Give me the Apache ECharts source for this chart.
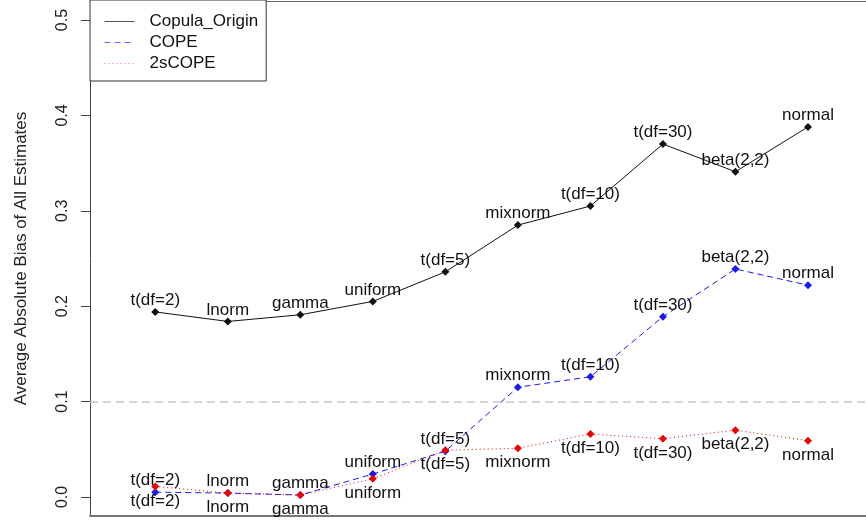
<!DOCTYPE html>
<html>
<head>
<meta charset="utf-8">
<script src="https://cdn.jsdelivr.net/npm/echarts@6/dist/echarts.min.js"></script>
<style>html,body{margin:0;padding:0;background:#fff}#main{width:866px;height:521px}</style>
</head>
<body>
<div id="main"></div>
<script>
// data
var distNames = ['t(df=2)','lnorm','gamma','uniform','t(df=5)','mixnorm','t(df=10)','t(df=30)','beta(2,2)','normal'];
var copulaOrigin = [0.194,0.184,0.191,0.205,0.236,0.285,0.305,0.370,0.341,0.388];
var cope = [0.005,0.004,0.002,0.024,0.048,0.115,0.126,0.189,0.239,0.222];
var twoSCope = [0.011,0.004,0.002,0.019,0.049,0.051,0.066,0.061,0.070,0.059];
var yTicks = [0,0.1,0.2,0.3,0.4,0.5];
var refLine = 0.1;

var font = 'Liberation Sans, Arial, sans-serif';

function mkData(vals){
	var out = [];
	for (var i = 0; i < vals.length; i++) {
		out.push({name: distNames[i], value: [i + 1, vals[i]]});
	}
	return out;
}

function mkSeries(name, vals, color, lineType, labelPos){
	return {
		name: name,
		type: 'line',
		data: mkData(vals),
		symbol: 'diamond',
		symbolSize: 8,
		itemStyle: {color: color},
		lineStyle: {color: color, width: 1, type: lineType},
		label: {
			show: true,
			position: labelPos,
			distance: labelPos == 'top' ? -1 : 2,
			formatter: function(p){ return p.name; },
			color: '#111',
			fontSize: 17,
			fontFamily: font
		}
	};
}

var dom = document.getElementById("main");
var myChart = echarts.init(dom);
var option = {
	animation: false,
	backgroundColor: '#fff',
	grid: {left: 90, right: 0, top: 1, bottom: 5},
	legend: {
		left: 90,
		top: 0,
		orient: 'vertical',
		backgroundColor: '#fff',
		borderColor: '#333',
		borderWidth: 1,
		borderRadius: 0,
		padding: [13, 8, 9, 14],
		itemWidth: 30,
		itemHeight: 14,
		itemGap: 4,
		itemStyle: {opacity: 0},
		textStyle: {fontSize: 17, fontFamily: font, color: '#111', padding: [0, 0, 0, 10]},
		data: [
			{name: 'Copula_Origin', lineStyle: {color: '#555', width: 1, type: 'solid'}},
			{name: 'COPE', lineStyle: {color: '#6666ff', width: 1, type: [6, 4]}},
			{name: '2sCOPE', lineStyle: {color: '#ff7777', width: 1, type: [1, 3]}}
		]
	},
	xAxis: [{
		type: 'value',
		min: 0.1,
		max: 10.8,
		axisLine: {show: true, onZero: false, lineStyle: {color: '#777', width: 2}},
		axisTick: {show: false},
		axisLabel: {show: false},
		splitLine: {show: false}
	}, {
		type: 'value',
		position: 'top',
		min: 0.1,
		max: 10.8,
		axisLine: {show: true, onZero: false, lineStyle: {color: '#666', width: 1}},
		axisTick: {show: false},
		axisLabel: {show: false},
		splitLine: {show: false}
	}],
	yAxis: {
		type: 'value',
		min: -0.02,
		max: 0.52,
		name: 'Average Absolute Bias of All Estimates',
		nameLocation: 'middle',
		nameRotate: 90,
		nameGap: 60,
		nameTextStyle: {fontSize: 17, fontFamily: font, color: '#222'},
		axisLine: {show: true, onZero: false, lineStyle: {color: '#444', width: 1}},
		axisTick: {show: true, length: 9, customValues: yTicks, lineStyle: {color: '#444'}},
		axisLabel: {
			rotate: 90,
			margin: 19,
			customValues: yTicks,
			formatter: function(v){ return v.toFixed(1); },
			fontSize: 16,
			fontFamily: font,
			color: '#222'
		},
		splitLine: {show: false}
	},
	series: [
		mkSeries('Copula_Origin', copulaOrigin, '#111', 'solid', 'top'),
		mkSeries('COPE', cope, '#1a1aee', [6, 4], 'top'),
		mkSeries('2sCOPE', twoSCope, '#ee0000', [1, 3], 'bottom')
	]
};
option.series[0].markLine = {
	silent: true,
	symbol: ['none', 'none'],
	label: {show: false},
	lineStyle: {color: '#c8c8c8', type: [8, 5], width: 1.5},
	data: [{yAxis: refLine}]
};
option.series[0].z = 2;
if (option && typeof option === "object") {
	myChart.setOption(option, true);
}
</script>
</body>
</html>
